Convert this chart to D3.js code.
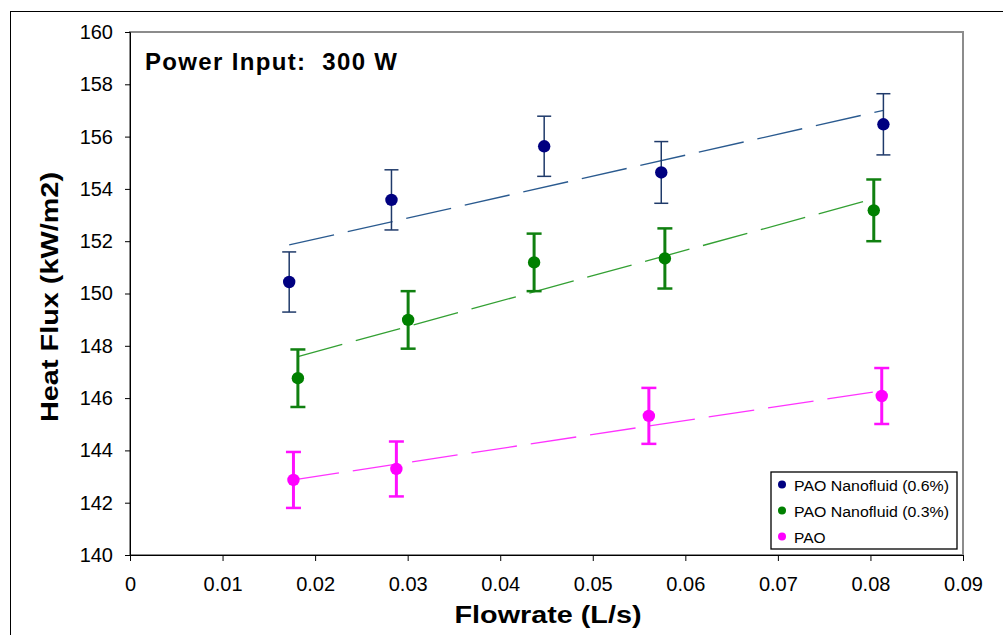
<!DOCTYPE html>
<html><head><meta charset="utf-8">
<script src="https://cdn.jsdelivr.net/npm/d3@7/dist/d3.min.js"></script>
<style>body{margin:0;background:#fff;} svg{display:block;font-family:Arial,"Liberation Sans",sans-serif;}</style>
</head><body>
<svg id="c" width="1003" height="635"></svg>
<script>
// ---- data ----
const nano06X = [0.0172, 0.02825, 0.04475, 0.0574, 0.0814];
const nano06Y = [150.44, 153.58, 155.63, 154.63, 156.47];
const nano06E = [1.15, 1.15, 1.15, 1.18, 1.17];
const nano03X = [0.01814, 0.03005, 0.04366, 0.05779, 0.08036];
const nano03Y = [146.76, 148.99, 151.19, 151.34, 153.18];
const nano03E = [1.10, 1.10, 1.10, 1.15, 1.18];
const paoX = [0.01766, 0.02878, 0.05606, 0.08122];
const paoY = [142.87, 143.29, 145.32, 146.08];
const paoE = [1.07, 1.05, 1.07, 1.07];
const xTicks = [0, 0.01, 0.02, 0.03, 0.04, 0.05, 0.06, 0.07, 0.08, 0.09];
const yTicks = [140, 142, 144, 146, 148, 150, 152, 154, 156, 158, 160];
const seriesNames = ["PAO Nanofluid (0.6%)", "PAO Nanofluid (0.3%)", "PAO"];

const series = [
  {name: seriesNames[0], xs: nano06X, ys: nano06Y, es: nano06E, mk: "#000080", eb: "#1f3a6a", ebw: 1.5, cap: 14, tr: "#2a5a8f"},
  {name: seriesNames[1], xs: nano03X, ys: nano03Y, es: nano03E, mk: "#008000", eb: "#108010", ebw: 3, cap: 15, tr: "#33a033"},
  {name: seriesNames[2], xs: paoX, ys: paoY, es: paoE, mk: "#ff00ff", eb: "#ff10ff", ebw: 3, cap: 15, tr: "#ff33ff"}
];

const svg = d3.select("#c");
const L = 130, R = 963, T = 32, B = 555;
const x = d3.scaleLinear().domain([0, 0.09]).range([L, R]);
const y = d3.scaleLinear().domain([140, 160]).range([B, T]);

// outer frame
svg.append("rect").attr("x", 10.5).attr("y", 11.5).attr("width", 1100).attr("height", 800)
  .attr("fill", "none").attr("stroke", "#000").attr("stroke-width", 1);

// plot border (gray)
svg.append("rect").attr("x", L).attr("y", T).attr("width", R - L).attr("height", B - T)
  .attr("fill", "#fff").attr("stroke", "#8c8c8c").attr("stroke-width", 2);

// axes
const yAxis = d3.axisLeft(y).tickValues(yTicks).tickSize(5).tickPadding(12).tickFormat(d3.format("d"));
const gy = svg.append("g").attr("transform", `translate(${L},0)`).call(yAxis);
gy.select(".domain").attr("stroke", "#000");
gy.selectAll("text").attr("font-size", 20).attr("fill", "#000");

const fmtX = d => d === 0 ? "0" : d3.format(".2f")(d);
const xAxis = d3.axisBottom(x).tickValues(xTicks).tickSize(6).tickPadding(16).tickFormat(fmtX);
const gx = svg.append("g").attr("transform", `translate(0,${B})`).call(xAxis);
gx.select(".domain").attr("stroke", "#000");
gx.selectAll("text").attr("font-size", 20).attr("fill", "#000");

// trendlines (least squares)
series.forEach(s => {
  const n = s.xs.length;
  const mx = d3.mean(s.xs), my = d3.mean(s.ys);
  let sxy = 0, sxx = 0;
  for (let i = 0; i < n; i++) { sxy += (s.xs[i] - mx) * (s.ys[i] - my); sxx += (s.xs[i] - mx) ** 2; }
  const b = sxy / sxx, a = my - b * mx;
  const x0 = d3.min(s.xs), x1 = d3.max(s.xs);
  svg.append("line")
    .attr("x1", x(x0)).attr("y1", y(a + b * x0))
    .attr("x2", x(x1)).attr("y2", y(a + b * x1))
    .attr("stroke", s.tr).attr("stroke-width", 1.3).attr("stroke-dasharray", "46,14");
});

// error bars and markers
series.forEach(s => {
  const g = svg.append("g");
  s.xs.forEach((xv, i) => {
    const cx = x(xv), yt = y(s.ys[i] + s.es[i]), yb = y(s.ys[i] - s.es[i]);
    g.append("line").attr("x1", cx).attr("x2", cx).attr("y1", yt).attr("y2", yb)
      .attr("stroke", s.eb).attr("stroke-width", s.ebw);
    [yt, yb].forEach(yy => g.append("line").attr("x1", cx - s.cap / 2).attr("x2", cx + s.cap / 2)
      .attr("y1", yy).attr("y2", yy).attr("stroke", s.eb).attr("stroke-width", s.ebw === 3 ? 2.5 : 1.5));
    g.append("circle").attr("cx", cx).attr("cy", y(s.ys[i])).attr("r", 6.2).attr("fill", s.mk);
  });
});

// annotation
svg.append("text").attr("x", 145).attr("y", 70).attr("font-size", 24).attr("font-weight", "bold")
  .attr("textLength", 252).attr("lengthAdjust", "spacing").attr("xml:space", "preserve")
  .text("Power Input:  300 W");

// axis titles
svg.append("text").attr("transform", "translate(58,297) rotate(-90)").attr("text-anchor", "middle")
  .attr("font-size", 23).attr("font-weight", "bold").attr("textLength", 250).attr("lengthAdjust", "spacingAndGlyphs")
  .text("Heat Flux (kW/m2)");
svg.append("text").attr("x", 548).attr("y", 623).attr("text-anchor", "middle")
  .attr("font-size", 23).attr("font-weight", "bold").attr("textLength", 187).attr("lengthAdjust", "spacingAndGlyphs")
  .text("Flowrate (L/s)");

// legend
const lg = svg.append("g");
lg.append("rect").attr("x", 771).attr("y", 472).attr("width", 186).attr("height", 77)
  .attr("fill", "#fff").attr("stroke", "#000").attr("stroke-width", 1.3);
series.forEach((s, i) => {
  const yy = 484.5 + i * 26;
  lg.append("circle").attr("cx", 782).attr("cy", yy).attr("r", 4).attr("fill", s.mk);
  const t = lg.append("text").attr("x", 794).attr("y", yy + 6).attr("font-size", 15.5).attr("fill", "#000")
    .text(s.name);
  if (i < 2) t.attr("textLength", 155).attr("lengthAdjust", "spacingAndGlyphs");
});
</script>
</body></html>
